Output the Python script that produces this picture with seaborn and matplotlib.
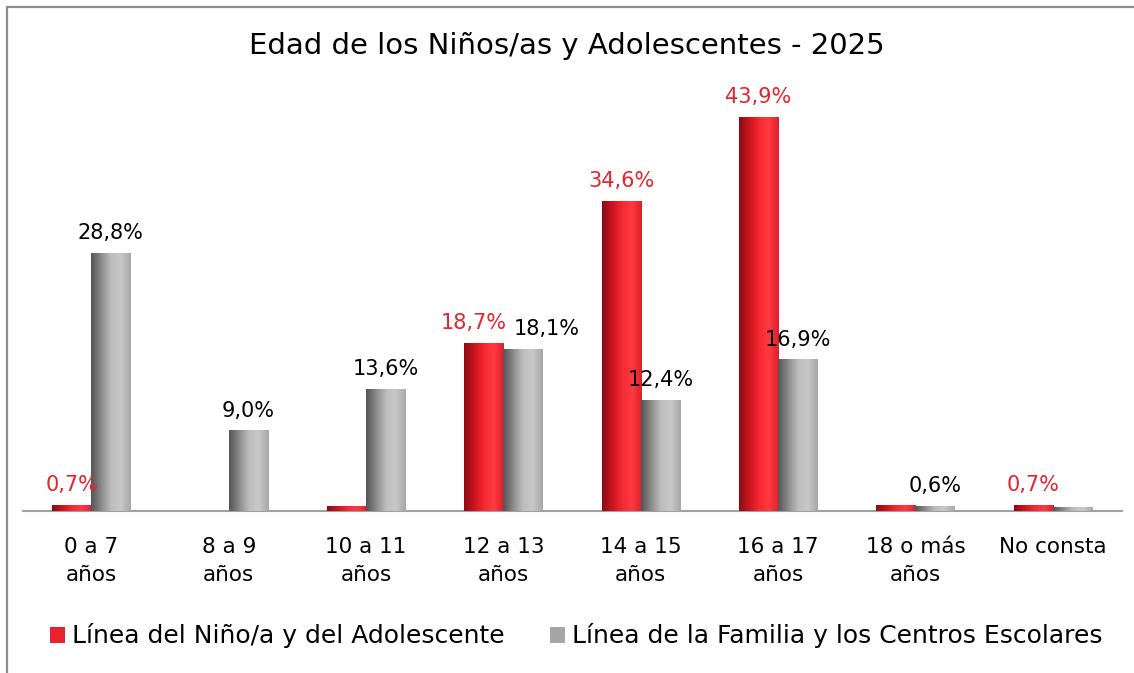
import numpy as np
import pandas as pd
import matplotlib
matplotlib.use("Agg")
import matplotlib.pyplot as plt
import seaborn as sns
from matplotlib.patches import Patch, Rectangle
from matplotlib.colors import LinearSegmentedColormap

# ── Data ─────────────────────────────────────────────────────
categorias = ["0 a 7\naños", "8 a 9\naños", "10 a 11\naños", "12 a 13\naños",
              "14 a 15\naños", "16 a 17\naños", "18 o más\naños", "No consta"]
serie_nino = "Línea del Niño/a y del Adolescente"
serie_familia = "Línea de la Familia y los Centros Escolares"
valores_nino = [0.7, 0.0, 0.6, 18.7, 34.6, 43.9, 0.7, 0.7]
valores_familia = [28.8, 9.0, 13.6, 18.1, 12.4, 16.9, 0.6, 0.4]
# which bars carry a data label in the original
etiqueta_nino = [True, False, False, True, True, True, False, True]
etiqueta_familia = [True, True, True, True, True, True, True, False]
titulo = "Edad de los Niños/as y Adolescentes - 2025"

df = pd.DataFrame({
    "categoria": categorias * 2,
    "serie": [serie_nino] * len(categorias) + [serie_familia] * len(categorias),
    "valor": valores_nino + valores_familia,
})

ROJO = "#e8232d"
GRIS = "#a6a6a6"

sns.set_theme(style="white")
plt.rcParams["font.family"] = ["DejaVu Sans"]
plt.rcParams["text.color"] = "black"
plt.rcParams["xtick.color"] = "black"

fig = plt.figure(figsize=(11.34, 6.73), dpi=100)
ax = fig.add_axes([0.02, 0.2407, 0.969, 0.60])

sns.barplot(data=df, x="categoria", y="valor", hue="serie",
            palette=[ROJO, GRIS], width=0.57, legend=False, ax=ax,
            saturation=1, edgecolor="none")

# gradient fill like the Excel bars
cmap_rojo = LinearSegmentedColormap.from_list(
    "r", ["#8c0c14", "#c8141e", "#f52832", "#ff3a42", "#e0202a"])
cmap_gris = LinearSegmentedColormap.from_list(
    "g", ["#555555", "#8a8a8a", "#bdbdbd", "#c8c8c8", "#a8a8a8"])
grad = np.linspace(0, 1, 64).reshape(1, -1)

n = len(categorias)
barras = ax.patches[:2 * n]
for i, p in enumerate(barras):
    h = p.get_height()
    if h <= 0:
        continue
    x0 = p.get_x()
    w = p.get_width()
    cm = cmap_rojo if i < n else cmap_gris
    im = ax.imshow(grad, cmap=cm, aspect="auto",
                   extent=[x0, x0 + w, 0, h], zorder=3)
    im.set_clip_path(p)

ax.set_ylim(0, 45)
ax.set_xlim(-0.5, n - 0.5)

# data labels (Excel pushed the 12 a 13 pair apart)
for i, p in enumerate(barras):
    h = p.get_height()
    cx = p.get_x() + p.get_width() / 2
    k = i % n
    if i < n:
        if not etiqueta_nino[k]:
            continue
        color = ROJO
        dx = -7 if k == 3 else 0
    else:
        if not etiqueta_familia[k]:
            continue
        color = "black"
        dx = 17 if k == 3 else 0
    ax.annotate(f"{h:.1f}%".replace(".", ","), (cx, h), xytext=(dx, 7),
                textcoords="offset points", ha="center", va="bottom",
                fontsize=15, color=color, zorder=5)

# axes styling
for s in ["left", "right", "top"]:
    ax.spines[s].set_visible(False)
ax.spines["bottom"].set_color("#a0a0a0")
ax.spines["bottom"].set_linewidth(1.5)
ax.set_yticks([])
ax.set_xlabel("")
ax.set_ylabel("")
ax.set_xticks(range(n))
ax.set_xticklabels(categorias, fontsize=15.5, linespacing=1.5, color="black")
ax.tick_params(axis="x", which="major", length=0, pad=19)
ax.set_xticks(np.arange(-0.5, n, 1.0), minor=True)
ax.tick_params(axis="x", which="minor", length=7, width=1.5,
               color="#a0a0a0", direction="out")

fig.text(0.5, 0.932, titulo, ha="center", va="center", fontsize=21,
         color="black")

handles = [Patch(facecolor=ROJO, edgecolor="none", label=serie_nino),
           Patch(facecolor=GRIS, edgecolor="none", label=serie_familia)]
leg = fig.legend(handles=handles, loc="center", bbox_to_anchor=(0.508, 0.055),
                 ncol=2, frameon=False, fontsize=18, handlelength=0.6,
                 handleheight=0.6, handletextpad=0.3, columnspacing=1.8)
for t in leg.get_texts():
    t.set_color("black")

# chart frame
fig.patches.append(Rectangle((0.0065, -0.05), 1.1, 1.0396, fill=False,
                             edgecolor="#8c8c8c", linewidth=1.6,
                             transform=fig.transFigure, figure=fig))

fig.savefig("out.png", dpi=100, facecolor="white")
